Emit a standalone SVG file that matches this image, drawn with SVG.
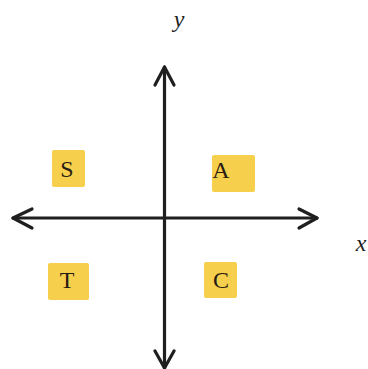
<svg xmlns="http://www.w3.org/2000/svg" width="368" height="369" viewBox="0 0 368 369">
<style>
.ax{stroke:#1f1f1f;stroke-width:3.2;fill:none;stroke-linecap:round;stroke-linejoin:round}
.box{fill:#f6d04d}
.lbl{font-family:"Liberation Serif",serif;font-size:24px;fill:#2a1c12;text-anchor:middle}
.var{font-family:"Liberation Serif",serif;font-style:italic;font-size:24px;fill:#1f1f1f;text-anchor:middle}
</style>
<rect width="368" height="369" fill="#fff"/>
<g id="axes">
<line class="ax" x1="13" y1="218" x2="317" y2="218"/>
<line class="ax" x1="164.5" y1="67" x2="164.5" y2="369"/>
<polyline class="ax" points="32,209 13,218 32,228"/>
<polyline class="ax" points="299,209 317,218 299,228"/>
<polyline class="ax" points="155,85 164.5,67 174,85"/>
<polyline class="ax" points="155,351 164.5,368 174,351"/>
</g>
<g id="label-y"><text class="var" x="179" y="27">y</text></g>
<g id="label-x"><text class="var" x="361" y="251">x</text></g>
<g id="S"><rect class="box" x="52" y="150" width="33" height="37" rx="2"/><text class="lbl" x="67" y="177">S</text></g>
<g id="A"><rect class="box" x="212" y="155" width="43" height="37" rx="2"/><text class="lbl" x="221" y="178">A</text></g>
<g id="T"><rect class="box" x="48" y="263" width="41" height="37" rx="2"/><text class="lbl" x="67" y="288">T</text></g>
<g id="C"><rect class="box" x="204" y="262" width="33" height="36" rx="2"/><text class="lbl" x="221" y="288">C</text></g>
</svg>
